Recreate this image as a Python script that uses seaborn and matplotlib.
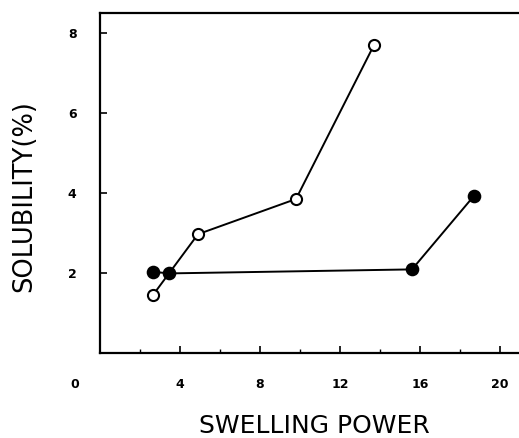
import matplotlib
matplotlib.use("Agg")
import matplotlib.pyplot as plt
import matplotlib.transforms as mtransforms
import seaborn as sns

# open circles
open_x = [2.65, 4.9, 9.8, 13.7]
open_y = [1.45, 2.97, 3.85, 7.7]
# filled circles
filled_x = [2.63, 3.47, 15.6, 18.7]
filled_y = [2.03, 1.99, 2.09, 3.93]

x_ticks = [0, 4, 8, 12, 16, 20]
y_ticks = [2, 4, 6, 8]

sns.set_style("white")
plt.rcParams["font.family"] = ["DejaVu Sans"]
plt.rcParams["text.color"] = "black"
plt.rcParams["xtick.color"] = "black"
plt.rcParams["ytick.color"] = "black"

fig = plt.figure(figsize=(5.19, 4.38), dpi=100)
ax = fig.add_axes([100 / 519, 85 / 438, 419 / 519, 340 / 438])

sns.lineplot(x=filled_x, y=filled_y, sort=False, ax=ax, color="black", lw=1.4,
             marker="o", markersize=8.5, markerfacecolor="black",
             markeredgecolor="black", markeredgewidth=1.3)
sns.lineplot(x=open_x, y=open_y, sort=False, ax=ax, color="black", lw=1.4,
             marker="o", markersize=8, markerfacecolor="white",
             markeredgecolor="black", markeredgewidth=1.5)

ax.set_xlim(0, 20.95)
ax.set_ylim(0, 8.5)
ax.set_xticks(x_ticks)
ax.set_xticks(range(2, 21, 4), minor=True)
ax.set_yticks(y_ticks)
ax.set_xticklabels([str(t) for t in x_ticks], fontweight="bold", fontsize=9)
ax.set_yticklabels([str(t) for t in y_ticks], fontweight="bold", fontsize=9)
ax.tick_params(axis="both", which="both", bottom=True, left=True, top=False, right=False)
ax.tick_params(axis="both", which="major", direction="in", length=5, width=1.2)
ax.tick_params(axis="x", which="major", pad=18)
ax.tick_params(axis="y", which="major", pad=17)
ax.tick_params(axis="x", which="minor", direction="in", length=3, width=1)

# shift the origin label to the corner
off = mtransforms.ScaledTranslation(-25 / 100, 0, fig.dpi_scale_trans)
lbl0 = ax.get_xticklabels()[0]
lbl0.set_transform(lbl0.get_transform() + off)

for s in ["left", "bottom", "top"]:
    ax.spines[s].set_linewidth(1.6)
    ax.spines[s].set_color("black")
ax.spines["right"].set_visible(False)

fig.text(314 / 519, 1 - 426 / 438, "SWELLING POWER", fontsize=18,
         ha="center", va="center")
fig.text(24 / 519, 1 - 196 / 438, "SOLUBILITY(%)", fontsize=18.5,
         ha="center", va="center", rotation=90)

fig.savefig("out.png", dpi=100)
